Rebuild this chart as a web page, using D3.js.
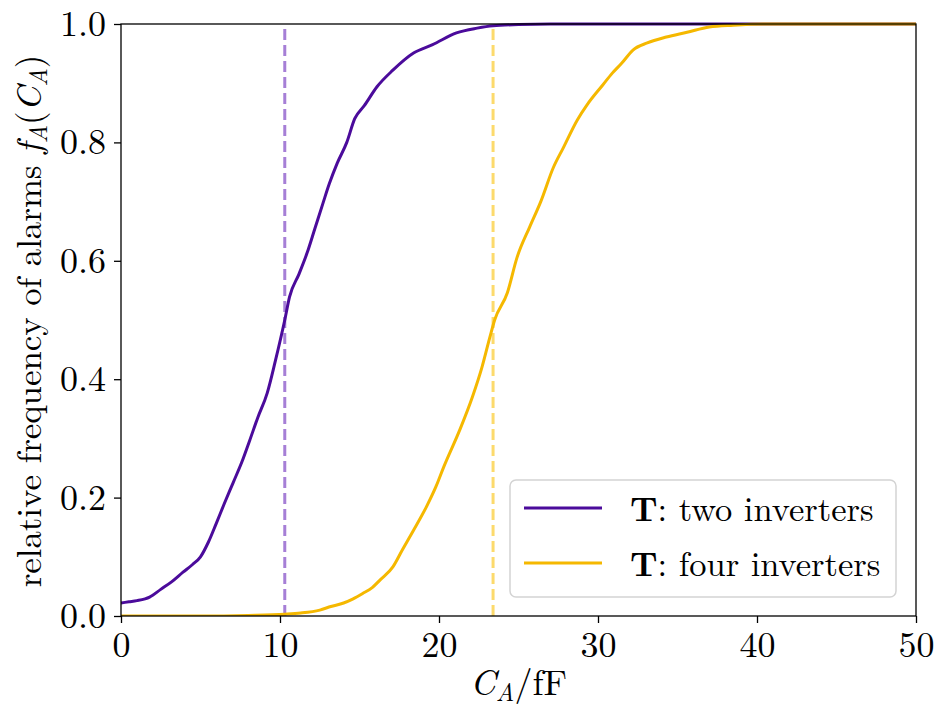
<!DOCTYPE html>
<html>
<head>
<meta charset="utf-8">
<script src="https://cdn.jsdelivr.net/npm/d3@7"></script>
<style>
  body { margin: 0; background: #fff; }
</style>
</head>
<body>
<div id="chart"></div>
<script>
// two inverters: C_A (fF) and relative frequency of alarms
const twoX = [0, 0.5, 1, 1.8, 2.5, 3.2, 3.9, 4.5, 5.0, 5.5, 6.0, 6.5, 7.05, 7.6, 8.1, 8.6, 9.2, 9.7, 10.3, 10.6, 11.2, 11.7, 12.2, 12.7, 13.1, 13.6, 14.2, 14.7, 15.3, 16.1, 17.1, 18.4, 19.6, 21.1, 22.4, 23.4, 25, 27, 50];
const twoY = [0.022, 0.024, 0.026, 0.032, 0.045, 0.058, 0.074, 0.087, 0.1, 0.125, 0.157, 0.19, 0.225, 0.26, 0.297, 0.335, 0.377, 0.43, 0.5, 0.539, 0.578, 0.613, 0.655, 0.697, 0.73, 0.765, 0.8, 0.84, 0.862, 0.894, 0.922, 0.951, 0.965, 0.985, 0.993, 0.997, 0.999, 1, 1];

// four inverters
const fourX = [0, 5, 8, 10.3, 11.3, 12.5, 13.2, 14, 14.6, 15.2, 15.8, 16.3, 17.1, 17.7, 18.4, 19.2, 19.8, 20.3, 21.3, 22.1, 22.7, 23.2, 23.5, 24.3, 24.9, 25.7, 26.4, 27.2, 27.8, 28.7, 29.3, 30.3, 30.9, 31.5, 32.2, 33.1, 34.3, 35.6, 37.0, 38.5, 40.6, 50];
const fourY = [0, 0, 0.001, 0.003, 0.005, 0.01, 0.016, 0.022, 0.029, 0.038, 0.048, 0.061, 0.083, 0.112, 0.145, 0.184, 0.218, 0.252, 0.314, 0.37, 0.42, 0.471, 0.5, 0.546, 0.605, 0.657, 0.7, 0.758, 0.79, 0.838, 0.863, 0.897, 0.917, 0.934, 0.956, 0.968, 0.978, 0.986, 0.995, 0.998, 1, 1];

// median markers (dashed lines)
const medians = [10.3, 23.4];

const xTicks = [0, 10, 20, 30, 40, 50];
const yTicks = [0, 0.2, 0.4, 0.6, 0.8, 1.0];

const seriesNames = ['two inverters', 'four inverters'];

const width = 936;
const height = 706;
const margin = { top: 24, right: 20, bottom: 90, left: 121 };
const innerWidth = width - margin.left - margin.right;
const innerHeight = height - margin.top - margin.bottom;

const font = 'Latin Modern Roman';
const colors = ['#4b0b9b', '#f5b800'];
const dashColors = ['#a67fd6', '#fcda6c'];

const svg = d3.select('#chart')
  .append('svg')
  .attr('width', width)
  .attr('height', height)
  .attr('font-family', font);

const g = svg.append('g')
  .attr('transform', `translate(${margin.left},${margin.top})`);

const x = d3.scaleLinear().domain([0, 50]).range([0, innerWidth]);
const y = d3.scaleLinear().domain([0, 1]).range([innerHeight, 0]);

const series = [
  twoX.map((v, i) => [v, twoY[i]]),
  fourX.map((v, i) => [v, fourY[i]]),
];

const line = d3.line()
  .curve(d3.curveMonotoneX)
  .x((d) => x(d[0]))
  .y((d) => y(d[1]));

svg.append('defs').append('clipPath').attr('id', 'plot-clip')
  .append('rect')
  .attr('x', 0).attr('y', -2)
  .attr('width', innerWidth).attr('height', innerHeight + 2);

const plot = g.append('g').attr('clip-path', 'url(#plot-clip)');

plot.selectAll('.median')
  .data(medians)
  .enter()
  .append('line')
  .attr('class', 'median')
  .attr('x1', (d) => x(d))
  .attr('x2', (d) => x(d))
  .attr('y1', y(0))
  .attr('y2', y(1))
  .attr('stroke', (d, i) => dashColors[i])
  .attr('stroke-width', 3)
  .attr('stroke-dasharray', '11,5');

plot.selectAll('.cdf')
  .data(series)
  .enter()
  .append('path')
  .attr('class', 'cdf')
  .attr('d', line)
  .attr('fill', 'none')
  .attr('stroke', (d, i) => colors[i])
  .attr('stroke-width', 3)
  .attr('stroke-linejoin', 'round');

// axes
const xAxis = g.append('g')
  .attr('transform', `translate(0,${innerHeight})`)
  .call(d3.axisBottom(x).tickValues(xTicks).tickSize(7).tickPadding(8).tickFormat(d3.format('d')));

const yAxis = g.append('g')
  .call(d3.axisLeft(y).tickValues(yTicks).tickSize(7).tickPadding(8).tickFormat(d3.format('.1f')));

[xAxis, yAxis].forEach((a) => {
  a.attr('font-family', font).attr('font-size', 36);
  a.select('.domain').remove();
  a.selectAll('.tick line').attr('stroke', '#000').attr('stroke-width', 1.3);
  a.selectAll('.tick text').attr('fill', '#000');
});

// frame
g.append('rect')
  .attr('x', 0).attr('y', 0)
  .attr('width', innerWidth).attr('height', innerHeight)
  .attr('fill', 'none')
  .attr('stroke', '#000')
  .attr('stroke-width', 1.3);

// x label  C_A/fF
const xl = svg.append('text')
  .attr('x', margin.left + innerWidth / 2)
  .attr('y', 695)
  .attr('text-anchor', 'middle')
  .attr('font-size', 36);
xl.append('tspan').attr('font-style', 'italic').text('C');
xl.append('tspan').attr('font-style', 'italic').attr('font-size', 25).attr('dy', 6).text('A');
xl.append('tspan').attr('dy', -6).text('/fF');

// y label
const yl = svg.append('text')
  .attr('transform', `translate(41,${margin.top + innerHeight / 2 + 1}) rotate(-90)`)
  .attr('text-anchor', 'middle')
  .attr('font-size', 34.8);
yl.append('tspan').text('relative frequency of alarms ');
yl.append('tspan').attr('font-style', 'italic').text('f');
yl.append('tspan').attr('font-style', 'italic').attr('font-size', 24.5).attr('dy', 6).text('A');
yl.append('tspan').attr('dy', -6).text('(');
yl.append('tspan').attr('font-style', 'italic').text('C');
yl.append('tspan').attr('font-style', 'italic').attr('font-size', 24.5).attr('dy', 6).text('A');
yl.append('tspan').attr('dy', -6).text(')');

// legend
const legend = svg.append('g')
  .attr('class', 'legend-container')
  .attr('transform', 'translate(510,480)');

legend.append('rect')
  .attr('width', 386)
  .attr('height', 117)
  .attr('rx', 6)
  .attr('fill', '#fff')
  .attr('fill-opacity', 0.85)
  .attr('stroke', '#d3d3d3')
  .attr('stroke-width', 1.5);

const items = legend.selectAll('.legend-item')
  .data(seriesNames)
  .enter()
  .append('g')
  .attr('class', 'legend-item')
  .attr('transform', (d, i) => `translate(0,${28 + i * 55})`);

items.append('line')
  .attr('x1', 14).attr('x2', 92)
  .attr('y1', 0).attr('y2', 0)
  .attr('stroke', (d, i) => colors[i])
  .attr('stroke-width', 3);

const lt = items.append('text')
  .attr('x', 120)
  .attr('y', 13)
  .attr('font-size', 34.5);
lt.append('tspan').attr('font-weight', 'bold').text('T');
lt.append('tspan').text((d) => ': ' + d);
</script>
</body>
</html>
